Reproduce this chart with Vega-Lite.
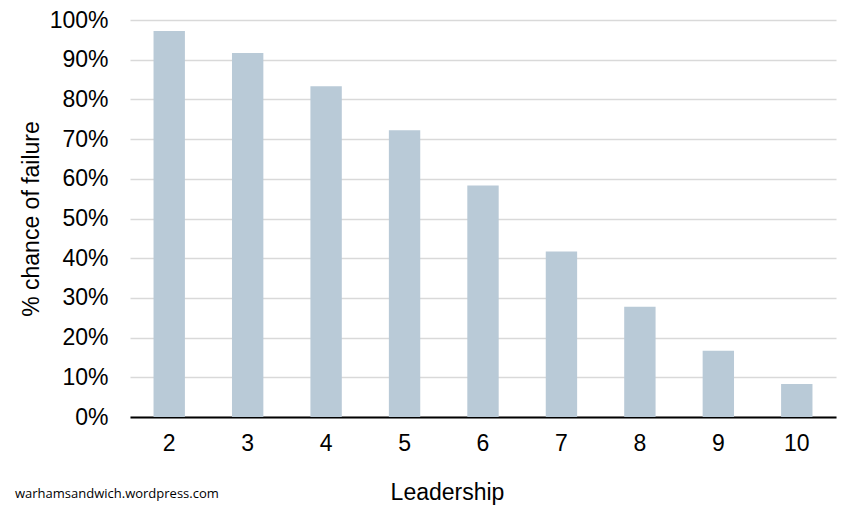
{
  "$schema": "https://vega.github.io/schema/vega-lite/v6.json",
  "width": 706,
  "height": 397,
  "autosize": {"type": "none"},
  "padding": {"left": 130, "top": 20, "right": 16, "bottom": 91},
  "background": "white",
  "config": {
    "view": {"stroke": null},
    "font": "Liberation Sans"
  },
  "title": {
    "text": "warhamsandwich.wordpress.com",
    "orient": "bottom",
    "anchor": "start",
    "frame": "group",
    "font": "Open Sans",
    "fontSize": 13,
    "fontWeight": "normal",
    "color": "#000000",
    "dx": -115,
    "offset": -16
  },
  "data": {
    "values": [
      {"leadership": "2", "failure": 0.972},
      {"leadership": "3", "failure": 0.917},
      {"leadership": "4", "failure": 0.833},
      {"leadership": "5", "failure": 0.722},
      {"leadership": "6", "failure": 0.583},
      {"leadership": "7", "failure": 0.417},
      {"leadership": "8", "failure": 0.278},
      {"leadership": "9", "failure": 0.167},
      {"leadership": "10", "failure": 0.083}
    ]
  },
  "mark": {"type": "bar", "color": "#b9cad7"},
  "encoding": {
    "x": {
      "field": "leadership",
      "type": "ordinal",
      "sort": null,
      "scale": {"paddingInner": 0.6, "paddingOuter": 0.3},
      "axis": {
        "title": "Leadership",
        "titleFont": "Liberation Sans",
        "titleFontSize": 23,
        "titleFontWeight": "normal",
        "titleColor": "#000000",
        "titlePadding": 26,
        "titleX": 317,
        "labelFont": "Liberation Sans",
        "labelFontSize": 23,
        "labelColor": "#000000",
        "labelAngle": 0,
        "labelPadding": 15,
        "ticks": false,
        "domainColor": "#000000",
        "domainWidth": 2,
        "grid": false
      }
    },
    "y": {
      "field": "failure",
      "type": "quantitative",
      "scale": {"domain": [0, 1]},
      "axis": {
        "title": "% chance of failure",
        "titleFont": "Liberation Sans",
        "titleFontSize": 23,
        "titleFontWeight": "normal",
        "titleColor": "#000000",
        "titlePadding": 6,
        "format": ".0%",
        "values": [0, 0.1, 0.2, 0.3, 0.4, 0.5, 0.6, 0.7, 0.8, 0.9, 1],
        "labelFont": "Liberation Sans",
        "labelFontSize": 23,
        "labelColor": "#000000",
        "labelPadding": 22,
        "ticks": false,
        "domain": false,
        "grid": true,
        "gridColor": "#d9d9d9",
        "gridWidth": 1.5
      }
    }
  }
}
